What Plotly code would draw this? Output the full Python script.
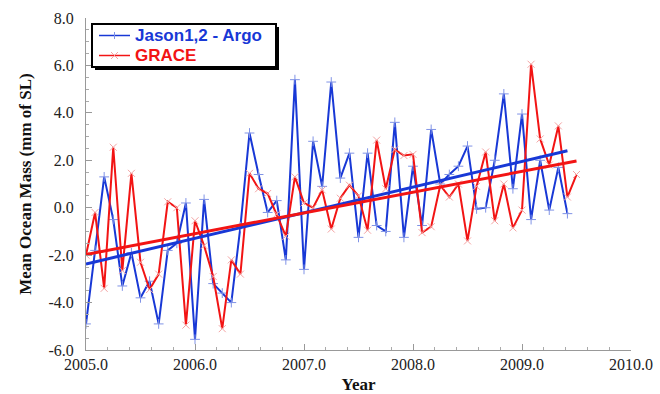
import numpy as np
import plotly.graph_objects as go

# ---- data ----
jason_values = [-4.9, -1.8, 1.3, -0.5, -3.3, -1.9, -3.8, -3.1, -4.9, -1.8, -1.5, 0.2,
                -5.55, 0.35, -3.2, -3.6, -4.0, -0.8, 3.15, 1.4, -0.2, 0.3, -2.2, 5.4,
                -2.6, 2.8, 0.9, 5.3, 1.25, 2.3, -1.25, 2.3, -0.75, -1.0, 3.6, -1.25,
                1.75, -0.75, 3.3, 1.0, 1.4, 1.75, 2.6, -0.05, 0.0, 2.0, 4.8, 0.8,
                3.95, -0.5, 2.0, -0.1, 1.7, -0.25]
grace_values = [-2.0, -0.2, -3.4, 2.55, -2.65, 1.45, -2.3, -3.45, -2.8, 0.25, 0.0, -4.95,
                -0.55, -1.6, -2.9, -5.1, -2.2, -2.8, 1.45, 0.8, 0.6, -0.27, -1.2, 1.3,
                0.2, 0.0, 0.75, -0.9, 0.4, 0.95, 0.5, -0.95, 2.85, 0.8, 2.45, 2.2,
                2.25, -1.05, -0.8, 0.95, 0.45, 1.0, -1.4, 0.9, 2.35, -0.55, 1.0, -0.85,
                -0.1, 6.05, 2.9, 1.8, 3.45, 0.45, 1.4]
start_year = 2005.0
jason_time = start_year + np.arange(len(jason_values)) / 12.0
grace_time = start_year + np.arange(len(grace_values)) / 12.0
jason_trend = [-2.37, 2.40]   # trend value at first / last month
grace_trend = [-1.97, 1.97]
x_ticks = [2005.0, 2006.0, 2007.0, 2008.0, 2009.0, 2010.0]
y_ticks = [-6.0, -4.0, -2.0, 0.0, 2.0, 4.0, 6.0, 8.0]
series_names = ["Jason1,2 - Argo", "GRACE"]

BLUE = "#1838d6"
RED = "#f21414"
BLUE_MK = "#8093e6"
RED_MK = "#f4a3a3"
W, H = 660, 394
L, R, T, B = 86, 29, 18, 44
PW, PH = W - L - R, H - T - B

def px_x(p):
    return (p - L) / PW

def px_y(p):
    return (H - B - p) / PH

fig = go.Figure()
fig.add_trace(go.Scatter(
    x=jason_time, y=jason_values, mode="lines+markers", name=series_names[0],
    line=dict(color=BLUE, width=2), showlegend=False,
    marker=dict(symbol="cross-thin", size=7, color=BLUE_MK,
                line=dict(color=BLUE_MK, width=1))))
fig.add_trace(go.Scatter(
    x=grace_time, y=grace_values, mode="lines+markers", name=series_names[1],
    line=dict(color=RED, width=2), showlegend=False,
    marker=dict(symbol="x-thin", size=7, color=RED_MK,
                line=dict(color=RED_MK, width=1))))
fig.add_trace(go.Scatter(
    x=[jason_time[0], jason_time[-1]], y=jason_trend, mode="lines",
    line=dict(color=BLUE, width=3), showlegend=False, hoverinfo="skip"))
fig.add_trace(go.Scatter(
    x=[grace_time[0], grace_time[-1]], y=grace_trend, mode="lines",
    line=dict(color=RED, width=3), showlegend=False, hoverinfo="skip"))

# ---- legend box (drawn with shapes + text) ----
def rect(x0, y0, x1, y1, **kw):
    fig.add_shape(type="rect", xref="paper", yref="paper",
                  x0=px_x(x0), x1=px_x(x1), y0=px_y(y1), y1=px_y(y0),
                  layer="above", **kw)

def seg(x0, y0, x1, y1, color, width=1):
    fig.add_shape(type="line", xref="paper", yref="paper",
                  x0=px_x(x0), x1=px_x(x1), y0=px_y(y0), y1=px_y(y1),
                  line=dict(color=color, width=width), layer="above")

rect(95, 27, 279, 70, fillcolor="black", line=dict(width=0))
rect(92, 24, 276, 67, fillcolor="white", line=dict(color="black", width=2))
rows = [(35.5, BLUE, BLUE_MK, "+"), (55.5, RED, RED_MK, "x")]
for (yy, col, mk, sym), name in zip(rows, series_names):
    seg(99, yy, 130, yy, col, 1.5)
    if sym == "+":
        seg(114.5, yy - 3.5, 114.5, yy + 3.5, mk, 1)
    else:
        seg(111, yy - 3.5, 118, yy + 3.5, mk, 1)
        seg(111, yy + 3.5, 118, yy - 3.5, mk, 1)
    fig.add_annotation(xref="paper", yref="paper", x=px_x(133), y=px_y(yy),
                       xanchor="left", yanchor="middle", showarrow=False,
                       text="<b>%s</b>" % name,
                       font=dict(family="Liberation Sans, Arial, sans-serif",
                                 size=17, color=col))

serif = "Liberation Serif, Times New Roman, serif"
fig.update_layout(
    width=W, height=H,
    margin=dict(l=L, r=R, t=T, b=B, pad=0),
    paper_bgcolor="white", plot_bgcolor="white",
    showlegend=False,
    xaxis=dict(range=[2005.0, 2010.0], tickvals=x_ticks,
               ticktext=["%.1f" % v for v in x_ticks],
               ticks="inside", ticklen=6, tickcolor="#999", tickwidth=1,
               showline=True, linecolor="#999", linewidth=1,
               showgrid=False, zeroline=False, automargin=False,
               minor=dict(dtick=0.2, ticks="inside", ticklen=3, tickcolor="#aaa"),
               tickfont=dict(family=serif, size=16, color="#222"),
               title=dict(text="<b>Year</b>", standoff=14,
                          font=dict(family=serif, size=17, color="#111"))),
    yaxis=dict(range=[-6.0, 8.0], tickvals=y_ticks,
               ticktext=["%.1f" % v for v in y_ticks],
               ticks="inside", ticklen=6, tickcolor="#999", tickwidth=1,
               showline=True, linecolor="#999", linewidth=1,
               showgrid=False, zeroline=False, automargin=False,
               minor=dict(dtick=0.5, ticks="inside", ticklen=3, tickcolor="#aaa"),
               ticklabelstandoff=8,
               tickfont=dict(family=serif, size=16, color="#222"),
               title=dict(text="<b>Mean Ocean Mass (mm of SL)</b>", standoff=12,
                          font=dict(family=serif, size=17, color="#111"))),
)

fig.write_html("out.html", config={"displayModeBar": False},
               post_script="document.body.style.margin='0';")
